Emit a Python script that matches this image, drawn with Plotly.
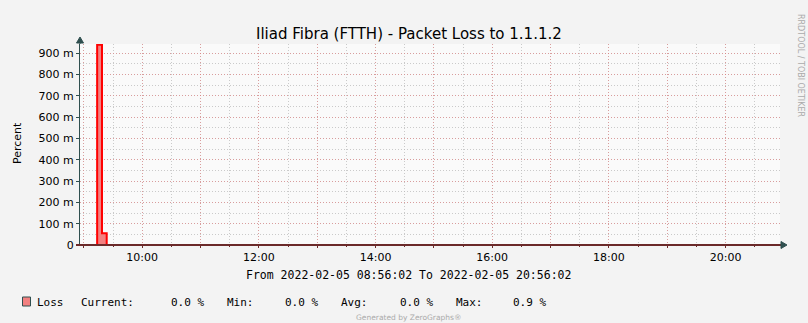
import plotly.graph_objects as go

# ---- data ----
times = ["2022-02-05 08:56:02", "2022-02-05 09:13:40", "2022-02-05 09:18:40",
         "2022-02-05 09:23:30", "2022-02-05 20:56:02"]
loss = [0.0, 0.94, 0.055, 0.0, 0.0]

x_tick_vals = ["2022-02-05 %02d:00" % h for h in range(9, 21)]
x_tick_text = ["", "10:00", "", "12:00", "", "14:00", "", "16:00", "", "18:00", "", "20:00"]
y_tick_vals = [0, 0.1, 0.2, 0.3, 0.4, 0.5, 0.6, 0.7, 0.8, 0.9]
y_tick_text = ["0", "100 m", "200 m", "300 m", "400 m", "500 m", "600 m", "700 m", "800 m", "900 m"]

title = "Iliad Fibra (FTTH) - Packet Loss to 1.1.1.2"
period = "From 2022-02-05 08:56:02 To 2022-02-05 20:56:02"
legend_items = [("Loss", 37.7), ("Current:", 81.7), ("0.0 %", 171.7), ("Min:", 227),
                ("0.0 %", 285), ("Avg:", 341), ("0.0 %", 400), ("Max:", 456), ("0.9 %", 513)]

W, H = 808, 323
L, R, T, B = 80, 28, 44, 78
PW, PH = W - L - R, H - T - B

MONO = "DejaVu Sans Mono"
SANS = "DejaVu Sans"
MAJ = "rgba(228,120,120,0.55)"
MIN = "rgba(185,185,185,0.75)"

fig = go.Figure()
fig.add_trace(go.Scatter(x=times, y=loss, mode="lines", line=dict(shape="hv", color="#ff0000", width=2),
                         fill="tozeroy", fillcolor="#f28080", hoverinfo="skip"))

def px(xp):
    return (xp - L) / PW

def py(yp):
    return (H - B - yp) / PH

annotations = [
    dict(text=title, x=px(408.5), y=py(34), xref="paper", yref="paper", showarrow=False,
         font=dict(family=SANS, size=15, color="#000"), xanchor="center", yanchor="middle"),
    dict(text="Percent", x=px(17), y=py(143), xref="paper", yref="paper", showarrow=False,
         textangle=-90, font=dict(family=SANS, size=11, color="#000"), xanchor="center", yanchor="middle"),
    dict(text=period, x=px(408), y=py(274.5), xref="paper", yref="paper", showarrow=False,
         font=dict(family=MONO, size=11.5, color="#000"), xanchor="center", yanchor="middle"),
    dict(text="Generated by ZeroGraphs®", x=px(408), y=py(317), xref="paper", yref="paper", showarrow=False,
         font=dict(family=SANS, size=7.5, color="#aaaaaa"), xanchor="center", yanchor="middle"),
    dict(text="RRDTOOL / TOBI OETIKER", x=px(800), y=py(66), xref="paper", yref="paper", showarrow=False,
         textangle=90, font=dict(family=SANS, size=8, color="#aaaaaa"), xanchor="center", yanchor="middle"),
]
for txt, xpos in legend_items:
    annotations.append(dict(text=txt, x=px(xpos - 2.5), y=py(302), xref="paper", yref="paper", showarrow=False,
                            font=dict(family=MONO, size=11, color="#000"), xanchor="left", yanchor="middle"))

shapes = [
    # legend swatch
    dict(type="rect", xref="paper", yref="paper", x0=px(22.5), x1=px(30.5), y0=py(306), y1=py(297),
         fillcolor="#f28080", line=dict(color="#2f4f4f", width=1)),
    # y axis extension + arrow
    dict(type="line", xref="paper", yref="paper", x0=0, x1=0, y0=1, y1=py(40), line=dict(color="#2f4f4f", width=1)),
    dict(type="path", xref="paper", yref="paper",
         path="M %f,%f L %f,%f L %f,%f Z" % (px(76.5), py(43), px(83.5), py(43), px(80), py(37)),
         fillcolor="#2f4f4f", line=dict(color="#2f4f4f", width=1)),
    # x axis extension + arrow
    dict(type="line", xref="paper", yref="paper", x0=px(76), x1=px(782), y0=0, y1=0,
         line=dict(color="#6b2a2a", width=2)),
    dict(type="path", xref="paper", yref="paper",
         path="M %f,%f L %f,%f L %f,%f Z" % (px(781), py(241.5), px(781), py(248.5), px(787), py(245)),
         fillcolor="#2f4f4f", line=dict(color="#2f4f4f", width=1)),
]

fig.update_layout(
    width=W, height=H, margin=dict(l=L, r=R, t=T, b=B),
    paper_bgcolor="#f3f3f3", plot_bgcolor="#fafafa", showlegend=False,
    annotations=annotations, shapes=shapes,
    xaxis=dict(type="date", range=["2022-02-05 08:56:02", "2022-02-05 20:56:02"],
               tickmode="array", tickvals=x_tick_vals, ticktext=x_tick_text,
               showgrid=True, gridcolor=MAJ, griddash="1px,2px", gridwidth=1,
               ticks="outside", ticklen=2, tickcolor="#6b2a2a",
               showline=False, zeroline=False,
               tickfont=dict(family=SANS, size=11, color="#000"),
               minor=dict(tickmode="linear", tick0="2022-02-05 00:00", dtick=1800000,
                          showgrid=True, gridcolor=MIN, griddash="1px,2px", gridwidth=1,
                          ticks="outside", ticklen=1, tickcolor="#6b2a2a")),
    yaxis=dict(range=[0, 0.943], tickmode="array", tickvals=y_tick_vals, ticktext=y_tick_text,
               showgrid=True, gridcolor=MAJ, griddash="1px,2px", gridwidth=1,
               ticks="outside", ticklen=3, tickcolor="#2f4f4f",
               showline=True, linecolor="#2f4f4f", linewidth=1, zeroline=False,
               tickfont=dict(family=SANS, size=11, color="#000"),
               minor=dict(tickmode="linear", tick0=0, dtick=0.05, showgrid=True,
                          gridcolor=MIN, griddash="1px,2px", gridwidth=1)),
)

fig.write_html("out.html")
